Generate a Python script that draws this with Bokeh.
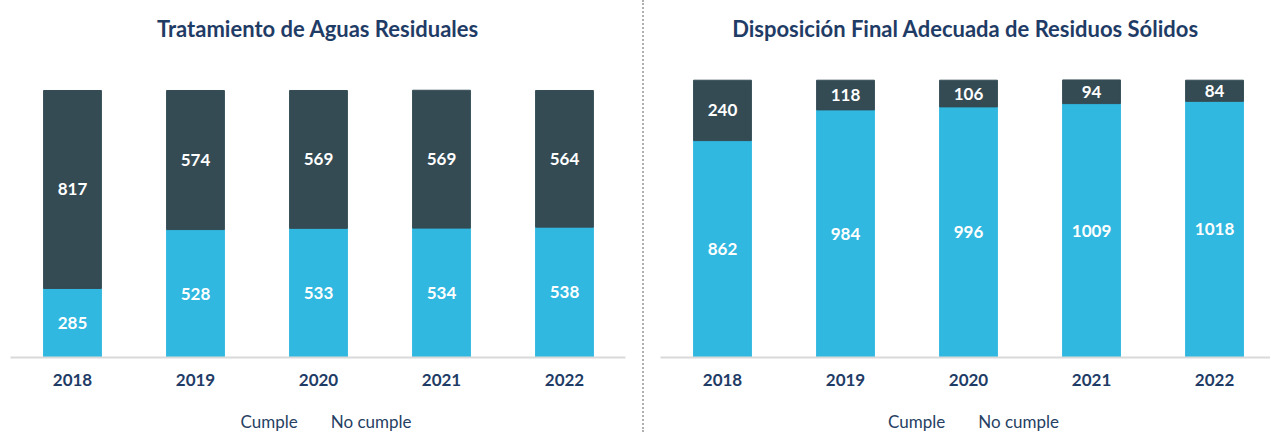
from bokeh.plotting import figure
from bokeh.models import (ColumnDataSource, Range1d, FixedTicker, Legend, LegendItem,
                          Div, PrintfTickFormatter)
from bokeh.layouts import row, column
from bokeh.embed import file_html
from bokeh.resources import INLINE
from bokeh.core.properties import value

years = [2018, 2019, 2020, 2021, 2022]
aguas_cumple = [285, 528, 533, 534, 538]
aguas_no_cumple = [817, 574, 569, 569, 564]
residuos_cumple = [862, 984, 996, 1009, 1018]
residuos_no_cumple = [240, 118, 106, 94, 84]
series_names = ["Cumple", "No cumple"]
title_aguas = "Tratamiento de Aguas Residuales"
title_residuos = "Disposición Final Adecuada de Residuos Sólidos"

C_CUMPLE = "#31B8E0"
C_NO = "#344B54"
NAVY = "#1F3C66"
LEG_TXT = "#263F63"
FONT = "Lato"


def make_source(cumple, no_cumple):
    return ColumnDataSource(dict(
        year=years, cumple=cumple, no=no_cumple,
        c_mid=[c / 2 for c in cumple],
        n_mid=[c + n / 2 for c, n in zip(cumple, no_cumple)],
        c_txt=[str(c) for c in cumple],
        n_txt=[str(n) for n in no_cumple],
    ))


def make_fig(title, src, width, x_start, x_end, y_end, bl, br):
    p = figure(width=width, height=410, x_range=Range1d(x_start, x_end),
               y_range=Range1d(0, y_end), output_backend="svg",
               toolbar_location=None, title=title,
               min_border_left=bl, min_border_right=br,
               min_border_top=52, min_border_bottom=53)
    p.vbar_stack(["cumple", "no"], x="year", width=0.47,
                 color=[C_CUMPLE, C_NO], source=src)
    for ycol, tcol in (("c_mid", "c_txt"), ("n_mid", "n_txt")):
        p.text(x="year", y=ycol, text=tcol, source=src, text_align="center",
               text_baseline="middle", text_color="white",
               text_font=value(FONT), text_font_style="bold",
               text_font_size="17px")
    p.title.align = "center"
    p.title.text_font = FONT
    p.title.text_font_size = "22px"
    p.title.text_font_style = "bold"
    p.title.text_color = NAVY
    p.title.standoff = 22

    ax = p.xaxis[0]
    ax.ticker = FixedTicker(ticks=years)
    ax.formatter = PrintfTickFormatter(format="%d")
    ax.major_tick_line_color = None
    ax.minor_tick_line_color = None
    ax.major_tick_out = 0
    ax.major_tick_in = 0
    ax.axis_line_color = "#D9D9D9"
    ax.axis_line_width = 2
    ax.major_label_text_font = FONT
    ax.major_label_text_font_style = "bold"
    ax.major_label_text_font_size = "17px"
    ax.major_label_text_color = NAVY
    ax.major_label_standoff = 16

    p.yaxis.visible = False
    p.xgrid.visible = False
    p.ygrid.visible = False
    p.outline_line_color = None
    return p


def make_legend_fig(width, bl, br):
    q = figure(width=width, height=22, x_range=Range1d(0, 1), y_range=Range1d(0, 1),
               x_axis_type=None, y_axis_type=None, output_backend="svg",
               toolbar_location=None, min_border_left=bl, min_border_right=br,
               min_border_top=0, min_border_bottom=0)
    q.outline_line_color = None
    # legend proxies with no data: they only supply the legend swatches
    empty = ColumnDataSource(dict(year=[], cumple=[], no=[]))
    rs = q.vbar_stack(["cumple", "no"], x="year", width=0.47,
                      color=[C_CUMPLE, C_NO], source=empty)
    legend = Legend(items=[LegendItem(label=series_names[0], renderers=[rs[0]]),
                           LegendItem(label=series_names[1], renderers=[rs[1]])],
                    orientation="horizontal", location="center",
                    margin=0, padding=0, spacing=16,
                    glyph_width=13, glyph_height=13, label_height=16,
                    label_standoff=4, label_text_font=FONT,
                    label_text_font_size="17px", label_text_color=LEG_TXT,
                    label_text_baseline="middle",
                    border_line_color=None, background_fill_alpha=0)
    q.add_layout(legend, "center")
    return q


src_a = make_source(aguas_cumple, aguas_no_cumple)
src_r = make_source(residuos_cumple, residuos_no_cumple)

left = make_fig(title_aguas, src_a, 642, 2017.496, 2022.496, 1258.8, 10, 17)
right = make_fig(title_residuos, src_r, 626, 2017.496, 2022.455, 1212.1, 16, 0)
leg_left = make_legend_fig(642, 10, 17)
leg_right = make_legend_fig(626, 16, 0)

sep = Div(text="", width=1, height=432, margin=(0, 0, 0, 0),
          styles={"border-left": "2px dotted #B0B0B0"})

layout = row(column(left, leg_left), sep, column(right, leg_right))
open("out.html", "w").write(file_html(layout, INLINE))
